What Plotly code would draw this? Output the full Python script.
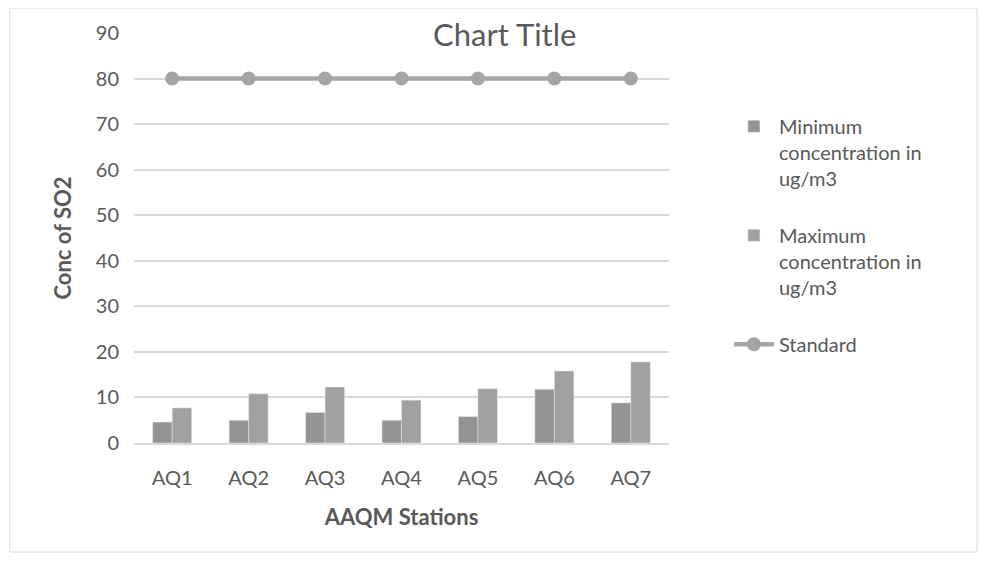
import plotly.graph_objects as go

stations = ["AQ1", "AQ2", "AQ3", "AQ4", "AQ5", "AQ6", "AQ7"]
min_conc = [4.6, 5.0, 6.7, 5.0, 5.8, 11.8, 8.8]
max_conc = [7.7, 10.8, 12.3, 9.4, 11.9, 15.8, 17.8]
standard = [80, 80, 80, 80, 80, 80, 80]

FONT = "Lato"
TXT = "#595959"

fig = go.Figure()
fig.add_trace(go.Bar(x=stations, y=min_conc, name="Minimum<br>concentration in<br>ug/m3",
                     marker=dict(color="#949494", line=dict(color="#e6e6e6", width=0.5)),
                     legendgroup="a"))
fig.add_trace(go.Bar(x=stations, y=max_conc, name="Maximum<br>concentration in<br>ug/m3",
                     marker=dict(color="#a0a0a0", line=dict(color="#e6e6e6", width=0.5)),
                     legendgroup="b"))
fig.add_trace(go.Scatter(x=stations, y=standard, name="Standard", mode="lines+markers",
                         line=dict(color="#a5a5a5", width=4.5),
                         marker=dict(color="#a5a5a5", size=14, symbol="circle"),
                         legendgroup="c"))

fig.update_layout(
    width=979, height=557,
    margin=dict(l=126, r=318, t=25, b=122),
    paper_bgcolor="white", plot_bgcolor="white",
    font=dict(family=FONT, size=20, color=TXT),
    barmode="group", bargap=0.49, bargroupgap=0,
    title=dict(text="Chart Title", xref="paper", x=0.693, xanchor="center", y=0.952, yanchor="middle",
               font=dict(family=FONT, size=31, color=TXT)),
    legend=dict(x=1.112, xanchor="left", y=0.82, yanchor="top", valign="top",
                tracegroupgap=28, font=dict(family=FONT, size=20, color=TXT),
                itemwidth=40, bgcolor="rgba(0,0,0,0)"),
    xaxis=dict(title=dict(text="<b>AAQM Stations</b>", font=dict(family=FONT, size=22, color=TXT), standoff=22),
               showgrid=False, showline=True, linecolor="#d9d9d9", linewidth=1.5, ticks="",
               ticklabelstandoff=16,
               tickfont=dict(family=FONT, size=20, color=TXT)),
    yaxis=dict(title=dict(text="<b>Conc of SO2</b>", font=dict(family=FONT, size=22, color=TXT), standoff=18),
               range=[0, 90], dtick=10, showgrid=True, gridcolor="#d9d9d9", gridwidth=1.5,
               zeroline=False, showline=False, ticks="", ticklabelstandoff=14,
               tickfont=dict(family=FONT, size=20, color=TXT)),
    shapes=[dict(type="rect", xref="paper", yref="paper", x0=-0.232, x1=1.576, y0=-0.266, y1=1.061,
                 line=dict(color="#d9d9d9", width=1), fillcolor="rgba(0,0,0,0)", layer="below")],
)

fig.write_html("out.html")
